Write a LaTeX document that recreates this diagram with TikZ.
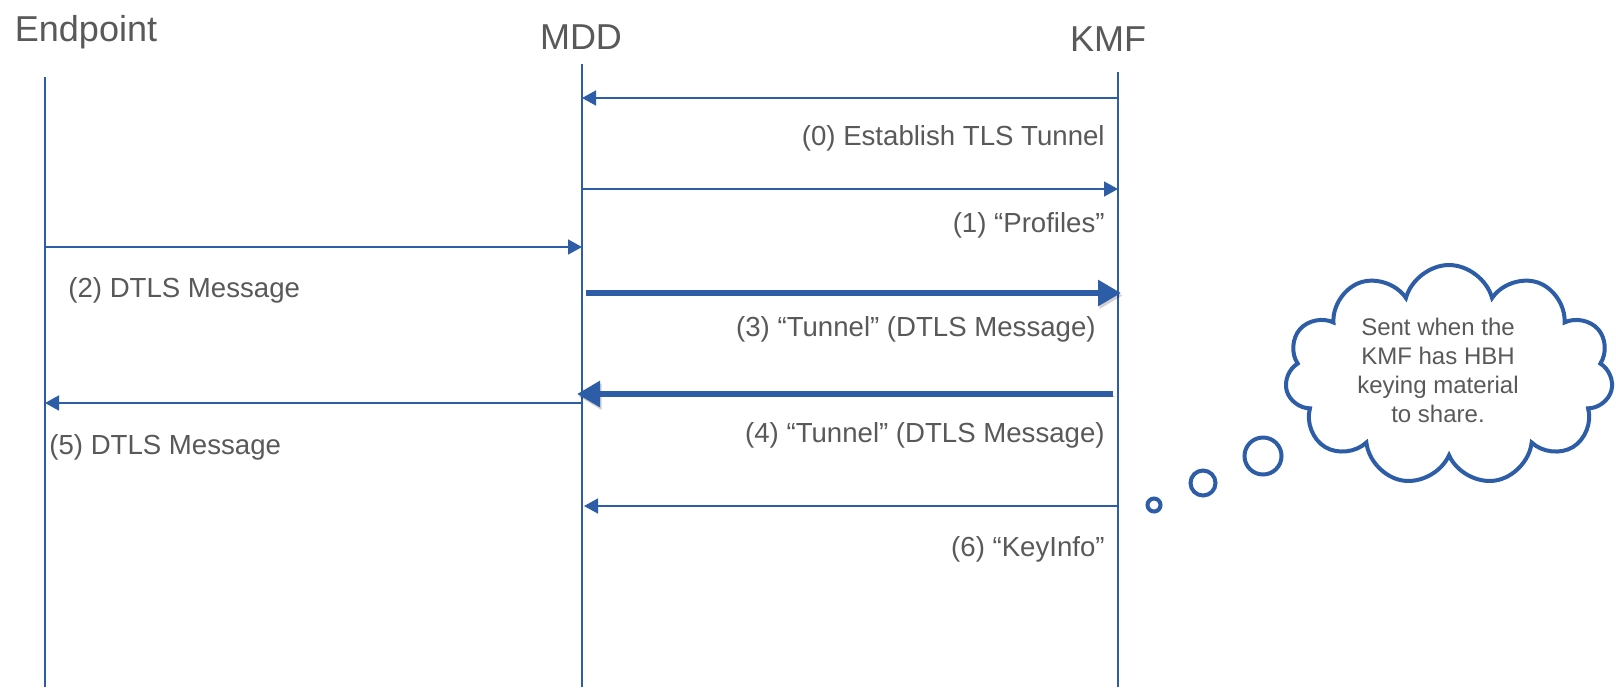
\documentclass[tikz,border=0pt]{standalone}
\usepackage{fontspec}
\setmainfont{Liberation Sans}
\usetikzlibrary{arrows.meta,shapes.symbols}
\definecolor{lineblue}{HTML}{2E5DA8}
\definecolor{txtgray}{HTML}{595959}
\begin{document}
\begin{tikzpicture}[x=0.5pt,y=-0.5pt,
  title/.style={text=txtgray,font=\fontsize{18}{21}\selectfont,inner sep=0},
  lbl/.style={text=txtgray,font=\fontsize{13.8}{16}\selectfont,inner sep=0},
  life/.style={draw=lineblue,line width=0.75pt},
  msg/.style={draw=lineblue,line width=0.75pt,-{Triangle[length=7pt,width=7.5pt,fill=lineblue]}},
  bigmsg/.style={draw=lineblue,line width=3pt,-{Triangle[length=11.5pt,width=12.5pt,fill=lineblue]},
    preaction={draw=black,opacity=0.18,transform canvas={shift={(0.8pt,-1.3pt)}}}},
  bubble/.style={circle,draw=lineblue,line width=2pt,inner sep=0,fill=white},
  ]
\useasboundingbox[fill=white] (0,0) rectangle (1616,687);
% titles
\node[title,anchor=base] (tE) at (86,41) {Endpoint};
\node[title,anchor=base] (tM) at (581,49) {MDD};
\node[title,anchor=base] (tK) at (1108,51) {KMF};
% lifelines
\coordinate (Etop) at (45,77);  \coordinate (Ebot) at (45,687);
\coordinate (Mtop) at (582,64); \coordinate (Mbot) at (582,687);
\coordinate (Ktop) at (1118,72); \coordinate (Kbot) at (1118,687);
\draw[life] (Etop) -- (Ebot);
\draw[life] (Mtop) -- (Mbot);
\draw[life] (Ktop) -- (Kbot);
% (0)
\coordinate (k0) at (1118,98); \coordinate (m0) at (582,98);
\draw[msg] (k0) -- (m0);
\node[lbl,anchor=base east] (l0) at (1105,145) {(0) Establish TLS Tunnel};
% (1)
\coordinate (m1) at (582,189); \coordinate (k1) at (1118,189);
\draw[msg] (m1) -- (k1);
\node[lbl,anchor=base east] (l1) at (1105,232) {(1) “Profiles”};
% (2)
\coordinate (e2) at (45,247); \coordinate (m2) at (582,247);
\draw[msg] (e2) -- (m2);
\node[lbl,anchor=base west] (l2) at (68,297) {(2) DTLS Message};
% (3)
\coordinate (m3) at (586,293); \coordinate (k3) at (1121,293);
\draw[bigmsg] (m3) -- (k3);
\node[lbl,anchor=base east] (l3) at (1096,336) {(3) “Tunnel” (DTLS Message)};
% (4)
\coordinate (k4) at (1113,394); \coordinate (m4) at (577,394);
\draw[bigmsg] (k4) -- (m4);
\node[lbl,anchor=base east] (l4) at (1105,442) {(4) “Tunnel” (DTLS Message)};
% (5)
\coordinate (m5) at (582,403); \coordinate (e5) at (45,403);
\draw[msg] (m5) -- (e5);
\node[lbl,anchor=base west] (l5) at (49,454) {(5) DTLS Message};
% (6)
\coordinate (k6) at (1118,506); \coordinate (m6) at (584,506);
\draw[msg] (k6) -- (m6);
\node[lbl,anchor=base east] (l6) at (1105,556) {(6) “KeyInfo”};
% thought cloud
\node[cloud,cloud puffs=11,aspect=1.48,draw=lineblue,line width=2pt,fill=white,
  minimum width=164pt,minimum height=110pt,inner sep=0] (cl) at (1449,375) {};
\node[text=txtgray,font=\fontsize{12}{14.5}\selectfont,align=center,inner sep=0] (ct) at (1438,370)
  {Sent when the\\KMF has HBH\\keying material\\to share.};
\node[bubble,minimum size=18.5pt] (b1) at (1263,456) {};
\node[bubble,minimum size=12.5pt] (b2) at (1203,483) {};
\node[bubble,minimum size=6.5pt] (b3) at (1154,505) {};
\end{tikzpicture}
\end{document}
